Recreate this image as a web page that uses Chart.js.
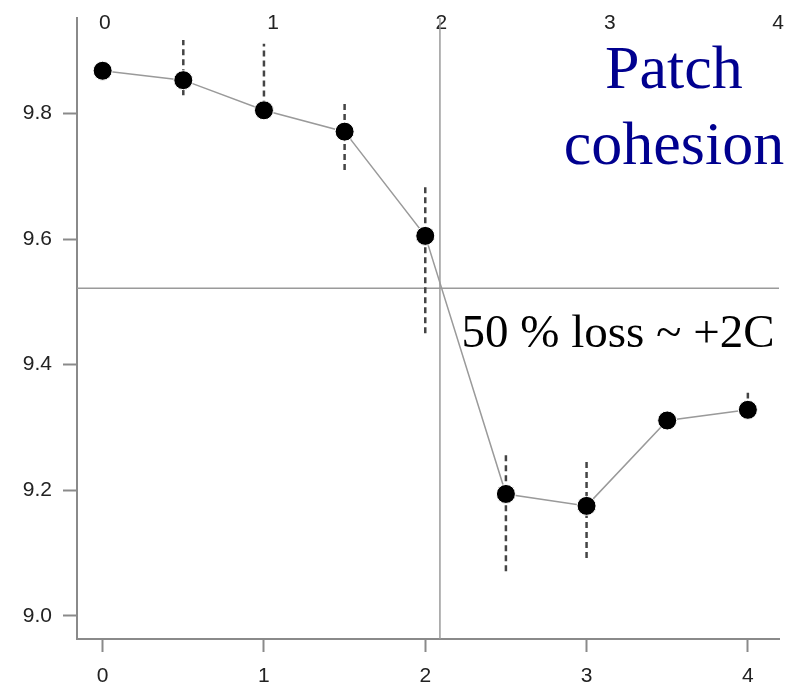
<!DOCTYPE html>
<html>
<head>
<meta charset="utf-8">
<script src="https://cdn.jsdelivr.net/npm/chart.js@4/dist/chart.umd.min.js"></script>
<style>
  html, body { margin: 0; padding: 0; background: #fff; }
  #wrap { width: 806px; height: 685px; position: relative; }
</style>
</head>
<body>
<div id="wrap"><canvas id="chart" width="806" height="685"></canvas></div>
<script>
// series
const xValues = [0, 0.5, 1, 1.5, 2, 2.5, 3, 3.5, 4]
const cohesion = [9.868, 9.853, 9.805, 9.771, 9.605, 9.194, 9.175, 9.311, 9.328]

// dashed error bars
const errX = [0.5, 1, 1.5, 2, 2.5, 3, 4]
const errLow = [9.829, 9.795, 9.710, 9.450, 9.071, 9.092, 9.330]
const errHigh = [9.917, 9.911, 9.816, 9.683, 9.256, 9.246, 9.355]

// 50% loss threshold
const thresholdY = 9.5215
const thresholdX = 2.091

// axes
const xTicks = [0, 1, 2, 3, 4]
const topTicks = [0, 1, 2, 3, 4]
const yTicks = [9.0, 9.2, 9.4, 9.6, 9.8]
const xMin = -0.159, xMax = 4.193
const topMin = -0.166, topMax = 4.006
const yMin = 8.963, yMax = 9.952
const topAxisAt = 9.964

const titleLines = ['Patch', 'cohesion']
const lossLabel = '50 % loss ~ +2C'

const axisGrey = '#8a8a8a'
const tickFont = { family: '"Liberation Sans", Arial, sans-serif', size: 21 }

const errData = errX.flatMap((x, i) => [
  { x: x, y: errLow[i] },
  { x: x, y: errHigh[i] },
  { x: x, y: null }
])

const annotations = {
  id: 'annotations',
  afterDatasetsDraw(chart) {
    const ctx = chart.ctx
    const xs = chart.scales.x
    const ys = chart.scales.y
    ctx.save()
    ctx.fillStyle = '#00008f'
    ctx.font = '62px "Liberation Serif", "Times New Roman", serif'
    ctx.textAlign = 'center'
    ctx.textBaseline = 'alphabetic'
    ctx.fillText(titleLines[0], xs.getPixelForValue(3.542), ys.getPixelForValue(9.840))
    ctx.fillText(titleLines[1], xs.getPixelForValue(3.542), ys.getPixelForValue(9.719))
    ctx.fillStyle = '#000'
    ctx.font = '47px "Liberation Serif", "Times New Roman", serif'
    ctx.textAlign = 'left'
    ctx.fillText(lossLabel, xs.getPixelForValue(2.225), ys.getPixelForValue(9.428))
    ctx.restore()
  }
}

new Chart(document.getElementById('chart'), {
  type: 'line',
  data: {
    datasets: [
      {
        label: 'Patch cohesion',
        data: xValues.map((x, i) => ({ x: x, y: cohesion[i] })),
        borderColor: '#9a9a9a',
        borderWidth: 1.5,
        pointRadius: 9.5,
        pointBackgroundColor: '#000',
        pointBorderColor: '#fff',
        pointBorderWidth: 1,
        tension: 0,
        order: 0
      },
      {
        label: 'error',
        data: errData,
        borderColor: '#444',
        borderWidth: 2.5,
        borderDash: [6, 4],
        pointRadius: 0,
        spanGaps: false,
        order: 1
      },
      {
        label: 'threshold y',
        data: [{ x: xMin, y: thresholdY }, { x: xMax, y: thresholdY }],
        borderColor: '#9a9a9a',
        borderWidth: 1.5,
        pointRadius: 0,
        order: 2
      },
      {
        label: 'threshold x',
        data: [{ x: thresholdX, y: yMin }, { x: thresholdX, y: yMax }],
        borderColor: '#9a9a9a',
        borderWidth: 1.5,
        pointRadius: 0,
        order: 2
      }
    ]
  },
  options: {
    responsive: false,
    animation: false,
    layout: { padding: { left: 0, right: 27, top: 18, bottom: 0 } },
    plugins: {
      legend: { display: false },
      tooltip: { enabled: false }
    },
    scales: {
      x: {
        type: 'linear',
        position: 'bottom',
        min: xMin,
        max: xMax,
        afterBuildTicks: scale => { scale.ticks = xTicks.map(v => ({ value: v })) },
        afterFit: scale => {
          scale.height = 46
          scale.paddingLeft = 0
          scale.paddingRight = 0
        },
        border: { display: true, color: axisGrey, width: 2 },
        grid: { drawOnChartArea: false, drawTicks: true, tickLength: 13, tickColor: axisGrey, tickWidth: 2 },
        ticks: { color: '#222', font: tickFont, padding: 12, maxRotation: 0 }
      },
      x2: {
        type: 'linear',
        axis: 'x',
        position: { y: topAxisAt },
        min: topMin,
        max: topMax,
        afterBuildTicks: scale => { scale.ticks = topTicks.map(v => ({ value: v })) },
        afterFit: scale => {
          scale.paddingLeft = 0
          scale.paddingRight = 0
        },
        border: { display: false },
        grid: { display: false, drawTicks: false },
        ticks: { color: '#222', font: tickFont, padding: 0, maxRotation: 0 }
      },
      y: {
        type: 'linear',
        position: 'left',
        min: yMin,
        max: yMax,
        afterBuildTicks: scale => { scale.ticks = yTicks.map(v => ({ value: v })) },
        afterFit: scale => {
          scale.width = 77
          scale.paddingTop = 0
          scale.paddingBottom = 0
        },
        border: { display: true, color: axisGrey, width: 2 },
        grid: { drawOnChartArea: false, drawTicks: true, tickLength: 14, tickColor: axisGrey, tickWidth: 2 },
        ticks: { color: '#222', font: tickFont, padding: 11, callback: v => v.toFixed(1) }
      }
    }
  },
  plugins: [annotations]
})
</script>
</body>
</html>
